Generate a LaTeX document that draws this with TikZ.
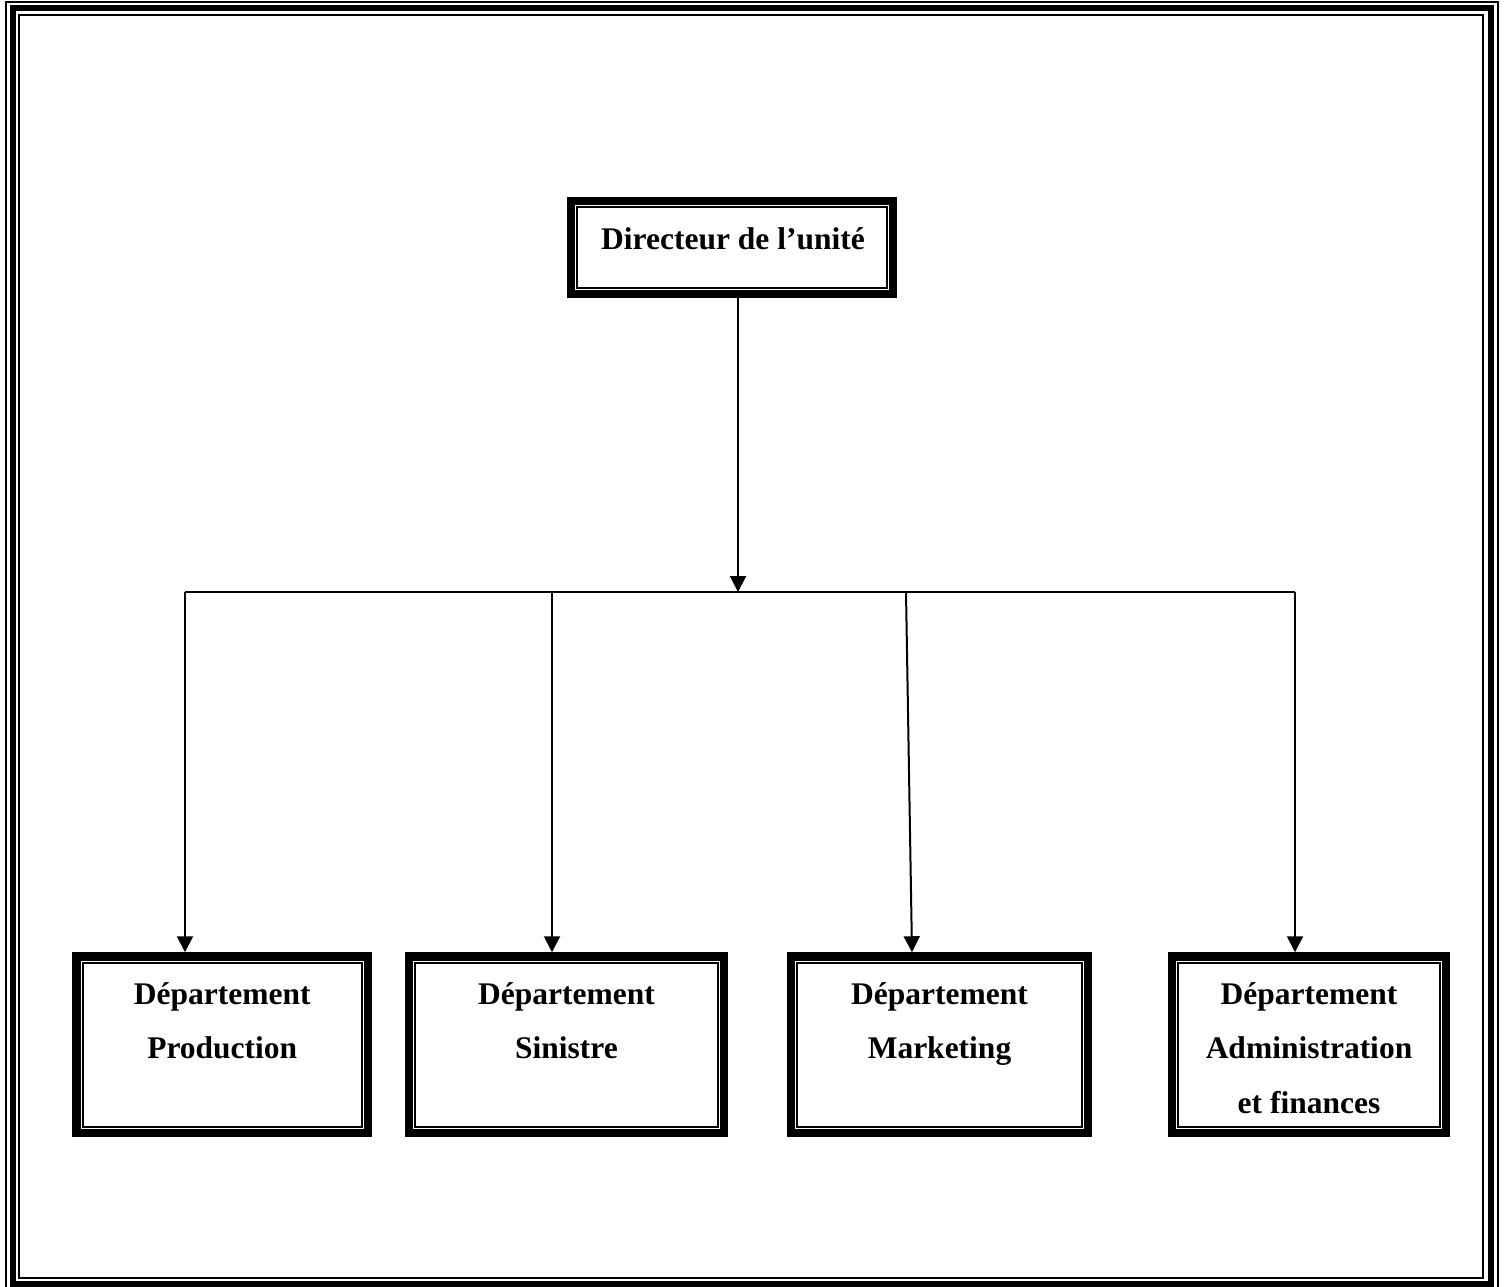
\documentclass[tikz,border=0pt]{standalone}
\usepackage{fontspec}
\setmainfont{Liberation Serif}
\usetikzlibrary{arrows.meta}

\begin{document}
\begin{tikzpicture}[x=1pt,y=-1pt,
  orgbox/.style={draw=black, line width=8.5pt, inner sep=0pt},
  deptbox/.style={orgbox, minimum height=176.5pt},
  boxtext/.style={inner sep=0pt, align=center,
    font=\fontsize{31.5}{54.5}\selectfont\bfseries},
  conn/.style={draw=black, line width=2pt},
  arr/.style={conn, -{Triangle[width=16pt,length=16pt]}}
]
\useasboundingbox (0,0) rectangle (1507,1287);

% page border: thin - thick - thin
\draw[line width=2pt] (6,2) rectangle (1498,1290);
\draw[line width=6pt] (12.5,8.5) rectangle (1490.5,1283.5);
\draw[line width=2pt] (19,15) rectangle (1483,1277.5);

% boxes
\node[orgbox, minimum width=322pt, minimum height=93pt] (dir) at (732,247.5) {};
\node[deptbox, minimum width=291.5pt] (prod) at (222.25,1044.75) {};
\node[deptbox, minimum width=315pt]   (sin)  at (566.5,1044.75) {};
\node[deptbox, minimum width=297pt]   (mkt)  at (939.5,1044.75) {};
\node[deptbox, minimum width=274pt]   (adm)  at (1309,1044.75) {};

% inner thin frame of every box
\foreach \n in {dir,prod,sin,mkt,adm}
  \draw[line width=2pt] ([shift={(10.5pt,-10.5pt)}]\n.north west)
    rectangle ([shift={(-10.5pt,10.5pt)}]\n.south east);

% labels
\node[boxtext, anchor=base] (dirtxt) at (733,249) {Directeur de l’unité};
\node[boxtext, anchor=north] (prodtxt) at (222.25,979)
  {\rule{0pt}{25pt}Département\\Production};
\node[boxtext, anchor=north] (sintxt) at (566.5,979)
  {\rule{0pt}{25pt}Département\\Sinistre};
\node[boxtext, anchor=north] (mkttxt) at (939.5,979)
  {\rule{0pt}{25pt}Département\\Marketing};
\node[boxtext, anchor=north] (admtxt) at (1309,979)
  {\rule{0pt}{25pt}Département\\Administration\\et finances};

% connectors
\coordinate (hub) at (738,592);
\coordinate (bl) at (185,592);
\coordinate (br) at (1295,592);
\coordinate (sj) at (552,592);
\coordinate (mj) at (906,592);
\coordinate (mk) at (912,700);

\draw[arr] (dir.south -| hub) -- (hub);
\draw[conn] (bl) -- (br);
\draw[arr] (bl) -- (bl |- prod.north);
\draw[arr] (sj) -- (sj |- sin.north);
\draw[arr] (mj) -- (mk |- mkt.north);
\draw[arr] (br) -- (br |- adm.north);
\end{tikzpicture}
\end{document}
